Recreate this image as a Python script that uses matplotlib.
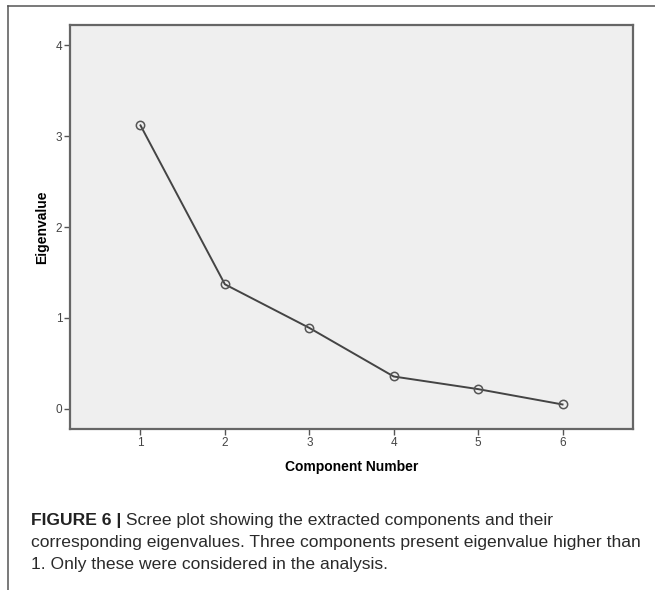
import matplotlib
matplotlib.use("Agg")
import matplotlib.pyplot as plt
from matplotlib.lines import Line2D

# scree plot values
components = [1, 2, 3, 4, 5, 6]
eigenvalues = [3.12, 1.37, 0.89, 0.355, 0.216, 0.047]
y_ticks = [0, 1, 2, 3, 4]

caption_bold = "FIGURE 6 |"
caption_lines = [
    " Scree plot showing the extracted components and their",
    "corresponding eigenvalues. Three components present eigenvalue higher than",
    "1. Only these were considered in the analysis.",
]

plt.rcParams['font.family'] = ['Liberation Sans', 'DejaVu Sans']

fig = plt.figure(figsize=(6.55, 5.90), dpi=100)
ax = fig.add_axes([0.1069, 0.2729, 0.8595, 0.6847])
ax.set_facecolor('#efefef')

ax.plot(components, eigenvalues, color='#444444', linewidth=1.4,
        marker='o', markersize=6, markerfacecolor='none',
        markeredgecolor='#555555', markeredgewidth=1.1)

ax.set_xlim(0.165, 6.835)
ax.set_ylim(-0.223, 4.225)
ax.set_xticks(components)
ax.set_yticks(y_ticks)
ax.tick_params(direction='out', length=4, width=1.0, color='#555555',
               labelsize=8.5, labelcolor='#444444', pad=1.5)

for side in ['left', 'right', 'top', 'bottom']:
    ax.spines[side].set_color('#666666')
    ax.spines[side].set_linewidth(1.6)

ax.set_xlabel('Component Number', fontsize=10, fontweight='bold', labelpad=8)
ax.set_ylabel('Eigenvalue', fontsize=10, fontweight='bold', labelpad=5)

# outer figure frame (left and top only)
fig.add_artist(Line2D([8 / 655, 8 / 655], [0, 1 - 6 / 590],
                      transform=fig.transFigure, color='#555555', linewidth=1.1))
fig.add_artist(Line2D([8 / 655, 1], [1 - 6 / 590, 1 - 6 / 590],
                      transform=fig.transFigure, color='#555555', linewidth=1.1))

# caption
cap_size = 12.6
t = fig.text(31 / 655, 1 - 520 / 590, caption_bold, fontsize=cap_size, fontweight='bold',
             va='center', ha='left', color='#222222')
fig.canvas.draw()
bb = t.get_window_extent()
fig.text(bb.x1 / fig.bbox.width, 1 - 520 / 590, caption_lines[0], fontsize=cap_size,
         va='center', ha='left', color='#2a2a2a')
fig.text(31 / 655, 1 - 542.5 / 590, caption_lines[1], fontsize=cap_size,
         va='center', ha='left', color='#2a2a2a')
fig.text(31 / 655, 1 - 565 / 590, caption_lines[2], fontsize=cap_size,
         va='center', ha='left', color='#2a2a2a')

fig.savefig('out.png', dpi=100)
